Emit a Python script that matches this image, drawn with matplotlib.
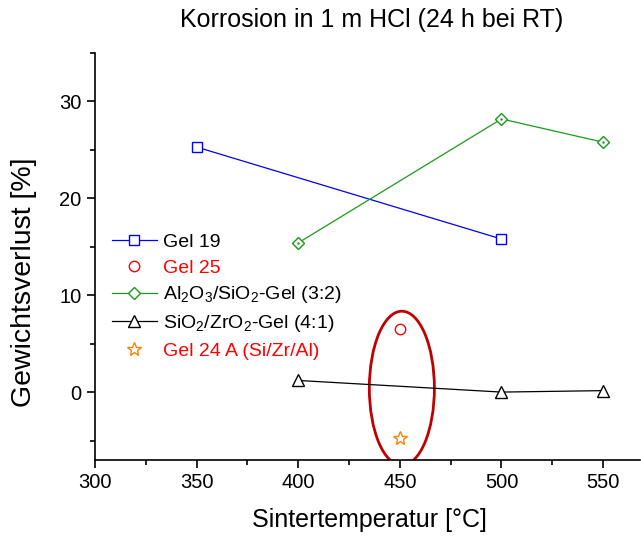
import matplotlib
matplotlib.use("Agg")
import matplotlib.pyplot as plt
from matplotlib.patches import Ellipse
from matplotlib.ticker import MultipleLocator

plt.rcParams["font.family"] = ["Liberation Sans", "DejaVu Sans"]
plt.rcParams["mathtext.fontset"] = "custom"
plt.rcParams["mathtext.rm"] = "Liberation Sans"

# data
gel19_x = [350, 500]
gel19_y = [25.3, 15.8]
gel25_x = [450]
gel25_y = [6.5]
al_x = [400, 500, 550]
al_y = [15.4, 28.2, 25.8]
zr_x = [400, 500, 550]
zr_y = [1.2, 0.0, 0.15]
gel24_x = [450]
gel24_y = [-4.7]

fig = plt.figure(figsize=(6.41, 5.36), dpi=100)
ax = fig.add_axes([0.148, 0.142, 0.85, 0.759])

ax.plot(gel19_x, gel19_y, color="#0000ff", lw=0.9, marker="s", ms=6.5,
        mfc="white", mec="#0000ff", mew=1.0, label="Gel 19")
ax.plot(gel25_x, gel25_y, ls="none", marker="o", ms=7.5,
        mfc="white", mec="#ff0000", mew=1.0, label="Gel 25")
ax.plot(al_x, al_y, color="#1a9a1a", lw=0.9, marker="D", ms=6.5,
        mfc="white", mec="#1a9a1a", mew=1.0,
        label=r"Al$_\mathregular{2}$O$_\mathregular{3}$/SiO$_\mathregular{2}$-Gel (3:2)")
ax.plot(al_x, al_y, ls="none", marker=".", ms=1.5, color="#1a9a1a")
ax.plot(zr_x, zr_y, color="black", lw=0.9, marker="^", ms=8,
        mfc="white", mec="black", mew=1.0,
        label=r"SiO$_\mathregular{2}$/ZrO$_\mathregular{2}$-Gel (4:1)")
ax.plot(gel24_x, gel24_y, ls="none", marker="*", ms=10,
        mfc="white", mec="#ff8000", mew=1.0, label="Gel 24 A (Si/Zr/Al)")

ax.add_patch(Ellipse((451, 0.4), 32, 15.9, fill=False, ec="#c00000", lw=2))

ax.set_xlim(300, 568)
ax.set_ylim(-7, 35)
ax.xaxis.set_major_locator(MultipleLocator(50))
ax.xaxis.set_minor_locator(MultipleLocator(25))
ax.yaxis.set_major_locator(MultipleLocator(10))
ax.yaxis.set_minor_locator(MultipleLocator(5))
ax.set_xticks([300, 350, 400, 450, 500, 550])
ax.tick_params(which="major", direction="out", length=6, width=1.2, labelsize=14.5)
ax.tick_params(which="minor", direction="out", length=3.5, width=1.2)
for s in ["top", "right"]:
    ax.spines[s].set_visible(False)
for s in ["left", "bottom"]:
    ax.spines[s].set_linewidth(1.2)

fig.text(0.577, 0.030, "Sintertemperatur [°C]", fontsize=18,
         ha="center", va="center")
fig.text(0.038, 0.474, "Gewichtsverlust [%]", fontsize=20.5,
         ha="center", va="center", rotation=90)
fig.text(0.58, 0.962, "Korrosion in 1 m HCl (24 h bei RT)", fontsize=18,
         ha="center", va="center")

leg = ax.legend(loc="upper left", bbox_to_anchor=(0.01, 0.585), frameon=False,
                fontsize=14, handlelength=2.3, handletextpad=0.3,
                labelspacing=0.4, borderaxespad=0.2)
for txt in leg.get_texts():
    if txt.get_text().startswith("Gel 25") or txt.get_text().startswith("Gel 24"):
        txt.set_color("#ff0000")

fig.savefig("out.png", dpi=100)
